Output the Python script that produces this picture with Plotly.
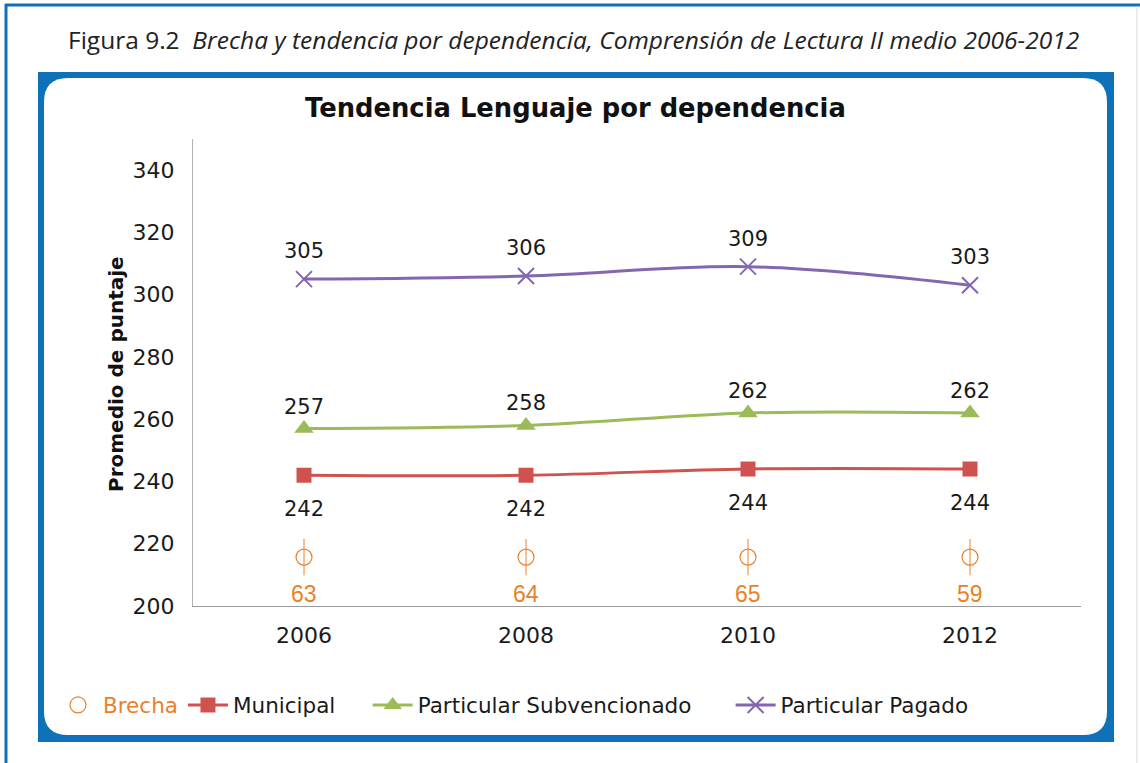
import plotly.graph_objects as go

# ---------------- data ----------------
years = ["2006", "2008", "2010", "2012"]
municipal = [242, 242, 244, 244]
subvencionado = [257, 258, 262, 262]
pagado = [305, 306, 309, 303]
brecha = [63, 64, 65, 59]
brecha_level = 215.7  # vertical level where the gap markers are drawn

W, H = 1140, 763


def px(x):
    return x / W


def py(y):
    return 1 - y / H


RED = "#D0524F"
GREEN = "#9BBB59"
PURPLE = "#8466B0"
ORANGE = "#E8822A"
BLUE = "#0F71B8"
TXT = "#1a1a1a"
NB = "\u00a0"

fig = go.Figure()

fig.add_trace(go.Scatter(
    x=years, y=[brecha_level] * len(brecha), mode="markers",
    name="<span style='color:%s'>Brecha</span>" % ORANGE,
    marker=dict(symbol="circle-open", size=16, color=ORANGE, line=dict(width=1.2)),
))
fig.add_trace(go.Scatter(
    x=years, y=[brecha_level] * len(brecha), mode="markers", showlegend=False,
    marker=dict(symbol="line-ns-open", size=26, color=ORANGE, line=dict(width=1, color=ORANGE)),
    hoverinfo="skip",
))
fig.add_trace(go.Scatter(
    x=years, y=municipal, mode="lines+markers", name="Municipal" + NB * 4,
    line=dict(color=RED, width=3, shape="spline"),
    marker=dict(symbol="square", size=15, color=RED),
))
fig.add_trace(go.Scatter(
    x=years, y=subvencionado, mode="lines+markers", name="Particular Subvencionado" + NB * 5,
    line=dict(color=GREEN, width=3, shape="spline"),
    marker=dict(symbol="triangle-up", size=17, color=GREEN),
))
fig.add_trace(go.Scatter(
    x=years, y=pagado, mode="lines+markers", name="Particular Pagado",
    line=dict(color=PURPLE, width=3, shape="spline"),
    marker=dict(symbol="x-thin-open", size=16, color=PURPLE, line=dict(width=2, color=PURPLE)),
))

annotations = []
lab_font = dict(family="DejaVu Sans", size=21, color=TXT)
for i, v in enumerate(pagado):
    annotations.append(dict(x=i, y=v, xref="x", yref="y", text=str(v), showarrow=False,
                            yshift=28, font=lab_font))
for i, v in enumerate(subvencionado):
    annotations.append(dict(x=i, y=v, xref="x", yref="y", text=str(v), showarrow=False,
                            yshift=22, font=lab_font))
for i, v in enumerate(municipal):
    annotations.append(dict(x=i, y=v, xref="x", yref="y", text=str(v), showarrow=False,
                            yshift=-34, font=lab_font))
for i, v in enumerate(brecha):
    annotations.append(dict(x=i, y=brecha_level, xref="x", yref="y", text=str(v), showarrow=False,
                            yshift=-37, font=dict(family="Liberation Sans", size=23, color=ORANGE)))

# caption
annotations.append(dict(
    x=px(573), y=py(40), xref="paper", yref="paper", showarrow=False,
    text="Figura 9.2  <i>Brecha y tendencia por dependencia, Comprensión de Lectura II medio 2006-2012</i>",
    font=dict(family="Open Sans", size=24.5, color="#222222"), xanchor="center", yanchor="middle",
))
# chart title
annotations.append(dict(
    x=px(575), y=py(108), xref="paper", yref="paper", showarrow=False,
    text="<b>Tendencia Lenguaje por dependencia</b>",
    font=dict(family="DejaVu Sans", size=25.8, color="#111111"), xanchor="center", yanchor="middle",
))
# y-axis title
annotations.append(dict(
    x=px(116), y=py(374), xref="paper", yref="paper", showarrow=False, textangle=-90,
    text="<b>Promedio de puntaje</b>",
    font=dict(family="DejaVu Sans", size=20, color="#111111"), xanchor="center", yanchor="middle",
))


def rounded_rect(x0, y0, x1, y1, r):
    rx, ry = r / W, r / H
    X0, X1 = px(x0), px(x1)
    Y0, Y1 = py(y0), py(y1)
    return (f"M {X0+rx},{Y0} L {X1-rx},{Y0} Q {X1},{Y0} {X1},{Y0-ry} "
            f"L {X1},{Y1+ry} Q {X1},{Y1} {X1-rx},{Y1} "
            f"L {X0+rx},{Y1} Q {X0},{Y1} {X0},{Y1+ry} "
            f"L {X0},{Y0-ry} Q {X0},{Y0} {X0+rx},{Y0} Z")


shapes = [
    dict(type="line", xref="paper", yref="paper", x0=px(5), x1=px(1140), y0=py(5), y1=py(5),
         line=dict(color=BLUE, width=3), layer="below"),
    dict(type="line", xref="paper", yref="paper", x0=px(6), x1=px(6), y0=py(4), y1=py(763),
         line=dict(color=BLUE, width=3), layer="below"),
    dict(type="line", xref="paper", yref="paper", x0=px(1137), x1=px(1137), y0=py(6), y1=py(763),
         line=dict(color="#d8d8d8", width=1), layer="below"),
    dict(type="rect", xref="paper", yref="paper", x0=px(38), x1=px(1114), y0=py(72), y1=py(742),
         fillcolor=BLUE, line=dict(width=0), layer="below"),
    dict(type="path", xref="paper", yref="paper", path=rounded_rect(44, 78, 1107, 735, 24),
         fillcolor="white", line=dict(width=0), layer="below"),
]

fig.update_layout(
    width=W, height=H, template=None,
    margin=dict(l=0, r=0, t=0, b=0),
    paper_bgcolor="white", plot_bgcolor="rgba(0,0,0,0)",
    showlegend=True,
    legend=dict(orientation="h", x=px(53), y=py(705), xanchor="left", yanchor="middle",
                font=dict(family="DejaVu Sans", size=21.5, color=TXT), bgcolor="rgba(0,0,0,0)",
                itemwidth=40, tracegroupgap=0),
    xaxis=dict(domain=[px(193), px(1081)], type="category", range=[-0.5, 3.5],
               showline=True, linecolor="#9a9a9a", linewidth=1.2, showgrid=False, zeroline=False,
               ticks="outside", ticklen=9, tickcolor="rgba(0,0,0,0)", automargin=False,
               tickfont=dict(family="DejaVu Sans", size=22, color=TXT)),
    yaxis=dict(domain=[py(606), py(139)], range=[200, 350], tickvals=[200, 220, 240, 260, 280, 300, 320, 340],
               showline=True, linecolor="#b0b0b0", linewidth=1, showgrid=False, zeroline=False,
               ticks="outside", ticklen=13, tickcolor="rgba(0,0,0,0)", automargin=False,
               tickfont=dict(family="DejaVu Sans", size=22, color=TXT)),
    annotations=annotations,
    shapes=shapes,
)

fig.write_html("out.html", config={"displayModeBar": False},
               post_script="document.body.style.margin='0px';")
